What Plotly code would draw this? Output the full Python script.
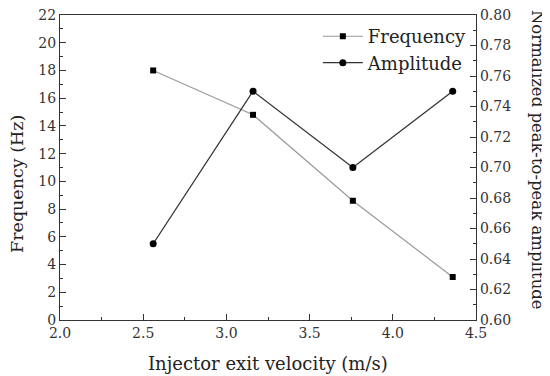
import plotly.graph_objects as go

velocity = [2.56, 3.16, 3.76, 4.36]
frequency = [18.0, 14.8, 8.6, 3.1]
amplitude = [0.65, 0.75, 0.70, 0.75]

FONT = "DejaVu Serif"
OFF = 8  # default body margin of the html page

fig = go.Figure()
fig.add_trace(go.Scatter(
    x=velocity, y=frequency, name="Frequency", mode="lines+markers",
    line=dict(color="#9a9a9a", width=1.2),
    marker=dict(symbol="square", size=6, color="black"),
    yaxis="y"))
fig.add_trace(go.Scatter(
    x=velocity, y=amplitude, name="Amplitude", mode="lines+markers",
    line=dict(color="#333333", width=1.3),
    marker=dict(symbol="circle", size=7, color="black"),
    yaxis="y2"))

axis_common = dict(showgrid=False, zeroline=False, showline=True,
                   linecolor="#333", linewidth=1.2, ticks="inside",
                   ticklen=6, tickcolor="#333", ticklabeloverflow="allow",
                   tickfont=dict(family=FONT, size=14, color="#333"))

fig.update_layout(
    width=550 - OFF, height=376 - OFF,
    margin=dict(l=60 - OFF, r=74, t=15 - OFF, b=56, autoexpand=False),
    paper_bgcolor="white", plot_bgcolor="white",
    showlegend=True,
    legend=dict(x=0.99, y=0.99, xanchor="right", yanchor="top",
                bgcolor="rgba(0,0,0,0)",
                font=dict(family=FONT, size=18, color="#222"),
                tracegroupgap=0, itemwidth=40),
    xaxis=dict(range=[2.0, 4.5], dtick=0.5, tick0=2.0, tickformat=".1f",
               mirror=True,
               minor=dict(dtick=0.25, ticks="inside", ticklen=3, tickcolor="#333"),
               **axis_common),
    yaxis=dict(range=[0, 22], dtick=2, tick0=0,
               minor=dict(dtick=1, ticks="inside", ticklen=3, tickcolor="#333"),
               **axis_common),
    yaxis2=dict(range=[0.6, 0.8], dtick=0.02, tick0=0.6, tickformat=".2f",
                overlaying="y", side="right",
                minor=dict(dtick=0.01, ticks="inside", ticklen=3, tickcolor="#333"),
                **axis_common),
    annotations=[
        dict(text="Normalized peak-to-peak amplitude", xref="paper", yref="paper",
             x=1.0, xshift=61, y=0.525, xanchor="center", yanchor="middle",
             textangle=90, showarrow=False,
             font=dict(family=FONT, size=16.5, color="#222")),
        dict(text="Frequency (Hz)", xref="paper", yref="paper",
             x=0.0, xshift=-43, y=0.446, xanchor="center", yanchor="middle",
             textangle=-90, showarrow=False,
             font=dict(family=FONT, size=17.5, color="#222")),
        dict(text="Injector exit velocity (m/s)", xref="paper", yref="paper",
             x=0.5, y=0.0, yshift=-43, xanchor="center", yanchor="middle",
             showarrow=False,
             font=dict(family=FONT, size=18, color="#222")),
    ],
)

fig.write_html("out.html")
